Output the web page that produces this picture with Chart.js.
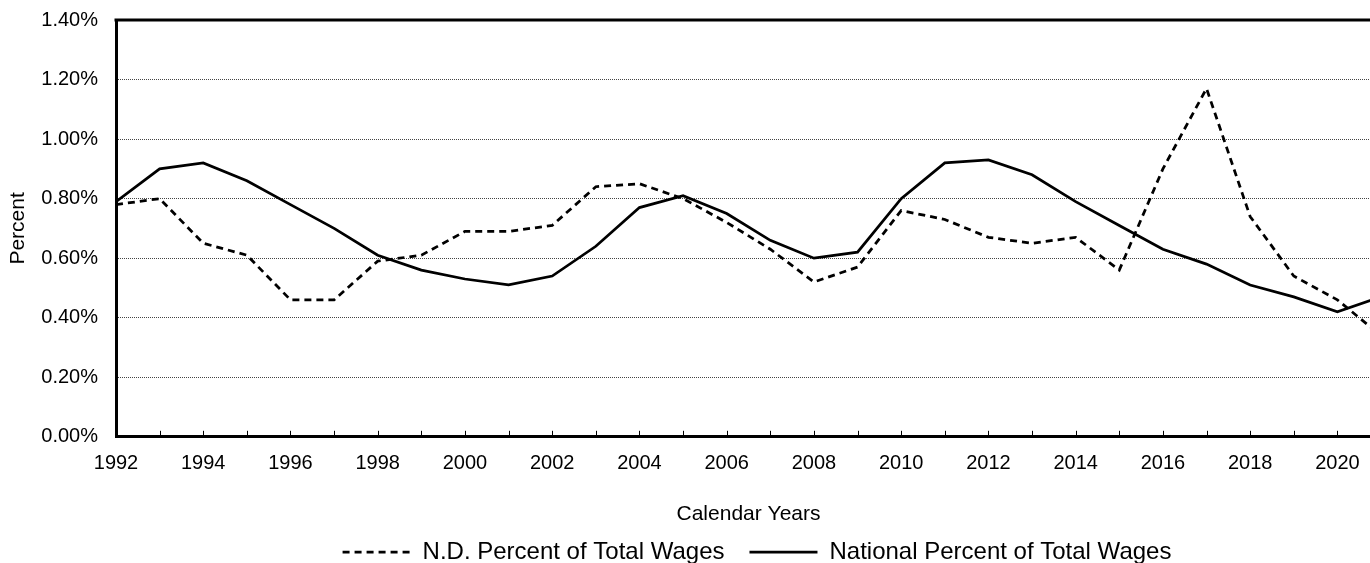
<!DOCTYPE html>
<html>
<head>
<meta charset="utf-8">
<script src="https://cdn.jsdelivr.net/npm/chart.js@4.4.1/dist/chart.umd.min.js"></script>
<style>
  html, body { margin: 0; padding: 0; background: #fff; overflow: hidden; }
  #wrap { position: relative; width: 1514px; height: 563px; }
</style>
</head>
<body>
<div id="wrap"><canvas id="wagesChart"></canvas></div>
<script>
// Unemployment-insurance wage share, North Dakota vs. national, by calendar year
const years = [1992, 1993, 1994, 1995, 1996, 1997, 1998, 1999, 2000, 2001,
               2002, 2003, 2004, 2005, 2006, 2007, 2008, 2009, 2010, 2011,
               2012, 2013, 2014, 2015, 2016, 2017, 2018, 2019, 2020, 2021];
const ndPercent = [0.78, 0.80, 0.65, 0.61, 0.46, 0.46, 0.59, 0.61, 0.69, 0.69,
                   0.71, 0.84, 0.85, 0.80, 0.72, 0.63, 0.52, 0.57, 0.76, 0.73,
                   0.67, 0.65, 0.67, 0.56, 0.90, 1.17, 0.74, 0.54, 0.46, 0.34];
const nationalPercent = [0.79, 0.90, 0.92, 0.86, 0.78, 0.70, 0.61, 0.56, 0.53, 0.51,
                         0.54, 0.64, 0.77, 0.81, 0.75, 0.66, 0.60, 0.62, 0.80, 0.92,
                         0.93, 0.88, 0.79, 0.71, 0.63, 0.58, 0.51, 0.47, 0.42, 0.47];
const yTicks = [0, 0.2, 0.4, 0.6, 0.8, 1.0, 1.2, 1.4];

const FONT = "'Liberation Sans', Arial, sans-serif";
Chart.defaults.font.family = FONT;
Chart.defaults.color = '#000';

// top frame line plus the small inward tick marks on every year
const framePlugin = {
  id: 'frame',
  afterDraw(chart) {
    const { ctx, chartArea: a, scales: { x } } = chart;
    ctx.save();
    ctx.strokeStyle = '#000';
    ctx.lineWidth = 3;
    ctx.beginPath();
    ctx.moveTo(a.left - 1.5, a.top);
    ctx.lineTo(a.right, a.top);
    ctx.stroke();

    ctx.lineWidth = 1;
    ctx.beginPath();
    for (let yr = x.min + 1; yr <= x.max; yr++) {
      const px = Math.round(x.getPixelForValue(yr)) + 0.5;
      ctx.moveTo(px, a.bottom);
      ctx.lineTo(px, a.bottom - 6);
    }
    ctx.stroke();
    ctx.restore();
  }
};

const toPoints = (vals) => vals.map((v, i) => ({ x: years[i], y: v }));

new Chart(document.getElementById('wagesChart'), {
  type: 'line',
  data: {
    datasets: [
      {
        label: 'N.D. Percent of Total Wages',
        data: toPoints(ndPercent),
        borderColor: '#000',
        backgroundColor: '#000',
        borderWidth: 2.75,
        borderDash: [7, 5],
        pointRadius: 0,
        tension: 0
      },
      {
        label: 'National Percent of Total Wages',
        data: toPoints(nationalPercent),
        borderColor: '#000',
        backgroundColor: '#000',
        borderWidth: 2.75,
        pointRadius: 0,
        tension: 0
      }
    ]
  },
  options: {
    responsive: true,
    maintainAspectRatio: false,
    animation: false,
    layout: { padding: { top: 20, left: 0, right: 0, bottom: -11 } },
    plugins: {
      tooltip: { enabled: false },
      legend: {
        position: 'bottom',
        labels: {
          usePointStyle: true,
          pointStyle: 'line',
          pointStyleWidth: 68,
          padding: 25,
          color: '#000',
          font: { size: 24, family: FONT },
          // keep each dataset's dash pattern on its legend line
          generateLabels(chart) {
            const items = Chart.defaults.plugins.legend.labels.generateLabels(chart);
            items.forEach((it) => {
              const ds = chart.data.datasets[it.datasetIndex];
              it.lineDash = ds.borderDash || [];
              it.lineWidth = ds.borderWidth;
              it.strokeStyle = ds.borderColor;
            });
            return items;
          }
        }
      }
    },
    scales: {
      x: {
        type: 'linear',
        min: years[0],
        max: years[years.length - 1],
        grid: { display: false, drawTicks: false },
        border: { display: true, color: '#000', width: 3 },
        ticks: {
          stepSize: 1,
          autoSkip: false,
          maxRotation: 0,
          padding: 15,
          font: { size: 20 },
          callback: (v) => (v % 2 === 0 ? String(v) : '')
        },
        title: {
          display: true,
          text: 'Calendar Years',
          font: { size: 21 },
          padding: { top: 11, bottom: -12 }
        }
      },
      y: {
        min: yTicks[0],
        max: yTicks[yTicks.length - 1],
        afterFit: (s) => { s.width = 116; s.paddingTop = 0; s.paddingBottom = 0; },
        afterBuildTicks: (s) => { s.ticks = yTicks.map((v) => ({ value: v })); },
        grid: { color: '#444', lineWidth: 1, drawTicks: false },
        border: { display: true, color: '#000', width: 3, dash: [1, 1] },
        ticks: {
          padding: 18,
          font: { size: 20 },
          callback: (v) => v.toFixed(2) + '%'
        },
        title: {
          display: true,
          text: 'Percent',
          font: { size: 21 },
          padding: { top: 6, bottom: 0 }
        }
      },
      // blank right-hand box that leaves room past the last year
      spacer: {
        position: 'right',
        display: true,
        afterFit: (s) => { s.width = 133; s.paddingTop = 0; s.paddingBottom = 0; },
        grid: { display: false },
        border: { display: false },
        ticks: { display: false }
      }
    }
  },
  plugins: [framePlugin]
});
</script>
</body>
</html>
